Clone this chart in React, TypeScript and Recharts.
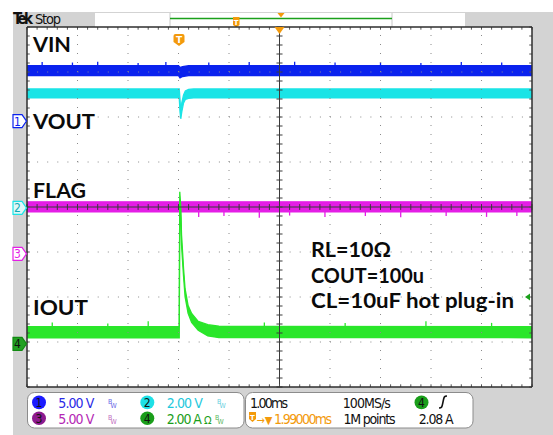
import React from 'react'
import {
  ComposedChart, Area, XAxis, YAxis, CartesianGrid, ReferenceLine, ReferenceDot,
} from 'recharts'

// screen is 10 div x 1.00 ms, 8 div tall; time in ms from the left edge
const TIME_PER_DIV = 1.0
const TRIG_DELAY = 1.99 // ms left of center
const TRIG_LEVEL = 2.08 // A, ch4

// channel settings: units/div and ground marker (div from bottom)
const ch1 = { scale: 5, pos: 5.91, color: '#0a22ee', label: '1' }
const ch2 = { scale: 2, pos: 3.98, color: '#1ae4e6', label: '2' }
const ch3 = { scale: 5, pos: 2.96, color: '#e41ee6', label: '3' }
const ch4 = { scale: 2, pos: 0.96, color: '#2ae62a', label: '4' }

// VIN (V) envelope
const vinT = [0, 3.0, 3.03, 3.08, 3.2, 10]
const vinHi = [6.15, 6.15, 5.95, 6.05, 6.15, 6.15]
const vinLo = [5.05, 5.05, 4.8, 4.95, 5.05, 5.05]

// VOUT (V) envelope
const voutT = [0, 3.015, 3.03, 3.045, 3.065, 3.1, 3.135, 3.2, 3.3, 10]
const voutHi = [5.29, 5.29, 4.8, 4.22, 4.67, 5.02, 5.2, 5.27, 5.29, 5.29]
const voutLo = [4.89, 4.89, 4.27, 3.96, 4.27, 4.67, 4.82, 4.87, 4.89, 4.89]

// FLAG (V) envelope
const flagT = [0, 10]
const flagHi = [5.78, 5.78]
const flagLo = [4.67, 4.67]

// IOUT (A) envelope
const ioutT = [0, 3.015, 3.025, 3.045, 3.06, 3.1, 3.13, 3.19, 3.26, 3.39, 3.58, 3.8, 10]
const ioutHi = [0.76, 0.76, 6.76, 6.1, 4.85, 3.35, 2.45, 1.7, 1.35, 1.0, 0.85, 0.78, 0.76]
const ioutLo = [0.27, 0.27, 6.4, 5.6, 4.4, 3.0, 2.1, 1.35, 0.95, 0.6, 0.35, 0.28, 0.27]

// noise spikes sticking out of the bands: [time ms, peak value]
const vinSpikes = [[0.3, 6.55], [0.9, 6.5], [1.4, 6.6], [2.2, 6.45], [2.75, 6.55], [3.6, 6.5], [4.4, 6.55], [5.3, 6.6], [6.1, 6.5], [7.0, 6.55], [7.8, 6.45], [8.6, 6.55], [9.4, 6.5]]
const flagSpikes = [[3.4, 4.1], [3.9, 4.2], [4.6, 4.0], [5.2, 4.25], [5.9, 4.1], [6.7, 4.2], [7.4, 4.05], [8.3, 4.2], [9.1, 4.1], [9.7, 4.2]]
const ioutSpikes = [[0.5, 0.95], [1.6, 0.9], [2.4, 1.0], [4.7, 0.95], [6.3, 0.92], [7.9, 1.0], [9.2, 0.93]]

const divX = [1, 2, 3, 4, 6, 7, 8, 9]
const divY = [1, 2, 3, 5, 6, 7]
const minorX = Array.from({ length: 51 }, (_, i) => Math.round(i * 2) / 10)
const minorY = Array.from({ length: 41 }, (_, i) => Math.round(i * 2) / 10)

function envelope(t: number[], hi: number[], lo: number[], ch: { scale: number; pos: number }) {
  return t.map((x, i) => ({ t: x, v: [ch.pos + lo[i] / ch.scale, ch.pos + hi[i] / ch.scale] }))
}

const traces = [
  { key: 'vin', data: envelope(vinT, vinHi, vinLo, ch1), color: ch1.color },
  { key: 'vout', data: envelope(voutT, voutHi, voutLo, ch2), color: ch2.color },
  { key: 'flag', data: envelope(flagT, flagHi, flagLo, ch3), color: ch3.color },
  { key: 'iout', data: envelope(ioutT, ioutHi, ioutLo, ch4), color: ch4.color },
]

const spikeSegs = [
  ...vinSpikes.map(([t, v]) => ({ t, lo: ch1.pos + 5.6 / ch1.scale, hi: ch1.pos + v / ch1.scale, color: ch1.color })),
  ...flagSpikes.map(([t, v]) => ({ t, lo: ch3.pos + v / ch3.scale, hi: ch3.pos + 5.2 / ch3.scale, color: ch3.color })),
  ...ioutSpikes.map(([t, v]) => ({ t, lo: ch4.pos + 0.5 / ch4.scale, hi: ch4.pos + v / ch4.scale, color: ch4.color })),
]

const ORANGE = '#f39a0c'
const GREY = '#d3d3d3'
const NARROW = "'Liberation Sans Narrow', 'DejaVu Sans Condensed', sans-serif"
const BIG = "Lato, 'Open Sans', sans-serif"

const trigT = 5 * TIME_PER_DIV - TRIG_DELAY

const TrigFlag = ({ cx, cy }: any) => (
  <g>
    <path d={`M${cx - 5.5},${cy + 9} q0,-2 2,-2 h7 q2,0 2,2 v6 l-5.5,4 l-5.5,-4 z`} fill={ORANGE} />
    <text x={cx} y={cy + 16} textAnchor="middle" fontSize={9} fontWeight={700} fill="#fff" fontFamily="DejaVu Sans">T</text>
  </g>
)

const CenterTri = ({ cx, cy }: any) => (
  <path d={`M${cx - 5},${cy} L${cx + 5},${cy} L${cx},${cy + 7} z`} fill={ORANGE} />
)

const ChMarker = (c: typeof ch1, filled: string) => ({ cx, cy }: any) => (
  <g>
    <path d={`M${cx - 14},${cy - 6.5} h9 l4.5,6.5 l-4.5,6.5 h-9 z`} fill={filled} stroke={c === ch4 ? '#118a11' : c.color} strokeWidth={1.2} />
    <text x={cx - 9.5} y={cy + 4.5} textAnchor="middle" fontSize={12} fontFamily={NARROW}
      fill={c === ch4 ? '#111' : c === ch2 ? '#10a8b4' : c.color}>{c.label}</text>
  </g>
)

const LevelArrow = ({ cx, cy }: any) => (
  <path d={`M${cx - 7},${cy} L${cx - 2},${cy - 3.5} L${cx - 2},${cy + 3.5} z`} fill="#1aa01a" />
)

const FRAME = '#2e2e2e'
const TICK = '#555'

function Scope() {
  return (
    <ComposedChart width={553} height={435} margin={{ top: 27, right: 21, bottom: 48, left: 27 }}>
      <CartesianGrid horizontal={false} vertical={false} fill="#ffffff" fillOpacity={1} />
      <XAxis type="number" dataKey="t" domain={[0, 10]} hide />
      <YAxis type="number" domain={[0, 8]} hide />
      {traces.map(tr => (
        <Area
          key={tr.key}
          data={tr.data}
          dataKey="v"
          type="linear"
          stroke={tr.color}
          strokeWidth={1.3}
          fill={tr.color}
          fillOpacity={1}
          dot={false}
          activeDot={false}
          isAnimationActive={false}
        />
      ))}
      {spikeSegs.map((s, i) => (
        <ReferenceLine key={'sp' + i} segment={[{ x: s.t, y: s.lo }, { x: s.t, y: s.hi }]} stroke={s.color} strokeWidth={1.3} />
      ))}
      {/* dotted graticule */}
      {divX.map(x => (
        <ReferenceLine key={'gx' + x} x={x} stroke="#8a8a8a" strokeDasharray="1 8" />
      ))}
      {divY.map(y => (
        <ReferenceLine key={'gy' + y} y={y} stroke="#8a8a8a" strokeDasharray="1 9.1" />
      ))}
      {/* center axes with minor ticks */}
      <ReferenceLine x={5} stroke="#3a3a3a" strokeWidth={1} />
      <ReferenceLine y={4} stroke="#3a3a3a" strokeWidth={1} />
      {minorX.map(x => (
        <ReferenceLine key={'cx' + x} segment={[{ x, y: 3.935 }, { x, y: 4.065 }]} stroke="#3a3a3a" />
      ))}
      {minorY.map(y => (
        <ReferenceLine key={'cy' + y} segment={[{ x: 4.94, y }, { x: 5.06, y }]} stroke="#3a3a3a" />
      ))}
      {/* border ticks */}
      {minorX.map(x => (
        <ReferenceLine key={'tt' + x} segment={[{ x, y: 8 }, { x, y: 7.94 }]} stroke={TICK} />
      ))}
      {minorX.map(x => (
        <ReferenceLine key={'tb' + x} segment={[{ x, y: 0 }, { x, y: 0.06 }]} stroke={TICK} />
      ))}
      {minorY.map(y => (
        <ReferenceLine key={'tl' + y} segment={[{ x: 0, y }, { x: 0.055, y }]} stroke={TICK} />
      ))}
      {minorY.map(y => (
        <ReferenceLine key={'tr' + y} segment={[{ x: 10, y }, { x: 9.945, y }]} stroke={TICK} />
      ))}
      {/* frame */}
      <ReferenceLine y={8} stroke={FRAME} strokeWidth={1.5} />
      <ReferenceLine y={0} stroke={FRAME} strokeWidth={1.5} />
      <ReferenceLine x={0} stroke={FRAME} strokeWidth={1.5} />
      <ReferenceLine x={10} stroke={FRAME} strokeWidth={1.5} />
      <ReferenceDot x={5} y={8} r={0} shape={CenterTri} ifOverflow="visible" />
      <ReferenceDot x={trigT} y={8} r={0} shape={TrigFlag} ifOverflow="visible" />
      <ReferenceDot x={0} y={ch1.pos} r={0} shape={ChMarker(ch1, '#ffffff')} ifOverflow="visible" />
      <ReferenceDot x={0} y={ch2.pos} r={0} shape={ChMarker(ch2, '#dff8f8')} ifOverflow="visible" />
      <ReferenceDot x={0} y={ch3.pos} r={0} shape={ChMarker(ch3, '#ffffff')} ifOverflow="visible" />
      <ReferenceDot x={0} y={ch4.pos} r={0} shape={ChMarker(ch4, '#22a022')} ifOverflow="visible" />
      <ReferenceDot x={10} y={ch4.pos + TRIG_LEVEL / ch4.scale} r={0} shape={LevelArrow} ifOverflow="visible" />
    </ComposedChart>
  )
}

// bandwidth-limit glyph: a small B over a small W
const Bw = ({ x, y, color }: { x: number; y: number; color: string }) => (
  <text x={x} y={y - 4} fill={color} fontFamily={NARROW} fontSize={7}>
    B<tspan dx={-1.5} dy={4}>W</tspan>
  </text>
)

const Badge = ({ x, y, fill, n }: { x: number; y: number; fill: string; n: string }) => (
  <g>
    <ellipse cx={x} cy={y} rx={7} ry={6.8} fill={fill} />
    <text x={x} y={y + 4.5} textAnchor="middle" fontSize={12} fontFamily={NARROW} fill="#111">{n}</text>
  </g>
)

function Frame() {
  return (
    <svg width={553} height={435} style={{ position: 'absolute', left: 0, top: 0 }}>
      <rect x={0} y={0} width={553} height={435} fill="#ffffff" />
      <rect x={13} y={12} width={540} height={423} fill={GREY} />
      <text x={13} y={23.5} fontFamily={NARROW} fontSize={15} fontWeight={700} fill="#111" textLength={20}>Tek</text>
      <text x={35} y={23.5} fontFamily={NARROW} fontSize={14.5} fill="#111" textLength={26}>Stop</text>
      <rect x={95} y={13} width={370} height={14} fill="#fff" />
      <line x1={170} y1={13} x2={170} y2={27} stroke="#c8c8c8" />
      <line x1={392} y1={13} x2={392} y2={27} stroke="#c8c8c8" />
      <line x1={170} y1={18.5} x2={392} y2={18.5} stroke="#1aa01a" strokeWidth={1.4} />
      <path d="M277.5,13 L284.5,13 L281,17.5 z" fill={ORANGE} />
      <path d="M233,17 h6.5 v8 l-3.25,2.5 l-3.25,-2.5 z" fill={ORANGE} />
      <text x={236.2} y={24.5} textAnchor="middle" fontSize={7} fontWeight={700} fill="#fff" fontFamily="DejaVu Sans">T</text>

      {/* status bar */}
      <rect x={27.5} y={392.5} width={216.5} height={35.5} rx={7} fill="#fff" stroke="#8c8c8c" />
      <rect x={245.5} y={392.5} width={227.5} height={35.5} rx={7} fill="#fff" stroke="#8c8c8c" />
      <g fontFamily={NARROW} fontSize={14}>
        <Badge x={39} y={402.4} fill="#1a1aff" n="1" />
        <text x={58.3} y={407.5} fill="#2a2ae6" textLength={36}>5.00 V</text>
        <Bw x={108} y={407.5} color="#6a6ae6" />
        <Badge x={147.3} y={402.4} fill="#1ee0e6" n="2" />
        <text x={166.8} y={407.5} fill="#1ec8dc" textLength={36}>2.00 V</text>
        <Bw x={217} y={407.5} color="#6ad0e0" />

        <Badge x={39} y={418.3} fill="#8e1a8e" n="3" />
        <text x={58.3} y={423.5} fill="#b428b4" textLength={36}>5.00 V</text>
        <Bw x={108} y={423.5} color="#c070c0" />
        <Badge x={147.3} y={418.3} fill="#1a9e1a" n="4" />
        <text x={166.8} y={423.5} fill="#1a9e1a" textLength={35}>2.00 A</text>
        <text x={204} y={423.5} fill="#1a9e1a" fontSize={11}>Ω</text>
        <Bw x={215} y={423.5} color="#60b860" />

        <text x={250} y={407.5} fill="#111" textLength={38}>1.00ms</text>
        <text x={342.8} y={407.5} fill="#111" textLength={48}>100MS/s</text>
        <Badge x={421.5} y={402.4} fill="#1a9e1a" n="4" />
        <path d="M439,408 c3,0 3,-1 4,-6 c1,-5 1,-6 4,-6" fill="none" stroke="#111" strokeWidth={1.6} />

        <path d="M249,412 h7 v7 l-3.5,3 l-3.5,-3 z" fill={ORANGE} />
        <text x={252.5} y={420} textAnchor="middle" fontSize={7} fontWeight={700} fill="#fff" fontFamily="DejaVu Sans">T</text>
        <text x={256.5} y={423.5} fill={ORANGE} fontSize={11}>→▼</text>
        <text x={274} y={423.5} fill={ORANGE} textLength={58}>1.99000ms</text>
        <text x={343.5} y={423.5} fill="#111" textLength={52}>1M points</text>
        <text x={418.7} y={423.5} fill="#111" textLength={35}>2.08 A</text>
      </g>
    </svg>
  )
}

function Labels() {
  const st = { fontFamily: BIG, fontWeight: 700, fontSize: 21, fill: '#0a0a0a', lengthAdjust: 'spacingAndGlyphs' } as const
  return (
    <svg width={553} height={435} style={{ position: 'absolute', left: 0, top: 0, pointerEvents: 'none' }}>
      <text x={33} y={52} {...st} textLength={38}>VIN</text>
      <text x={33} y={129} {...st} textLength={62}>VOUT</text>
      <text x={33} y={198} {...st} textLength={53}>FLAG</text>
      <text x={33} y={315} {...st} textLength={55}>IOUT</text>
      <text x={311} y={257} {...st} textLength={80}>RL=10Ω</text>
      <text x={311} y={283} {...st} textLength={113}>COUT=100u</text>
      <text x={311} y={308} {...st} textLength={203}>CL=10uF hot plug-in</text>
    </svg>
  )
}

export default function App() {
  return (
    <div style={{ position: 'absolute', left: 0, top: 0, width: 553, height: 435, overflow: 'hidden' }}>
      <Frame />
      <div style={{ position: 'absolute', left: 0, top: 0 }}>
        <Scope />
      </div>
      <Labels />
    </div>
  )
}
